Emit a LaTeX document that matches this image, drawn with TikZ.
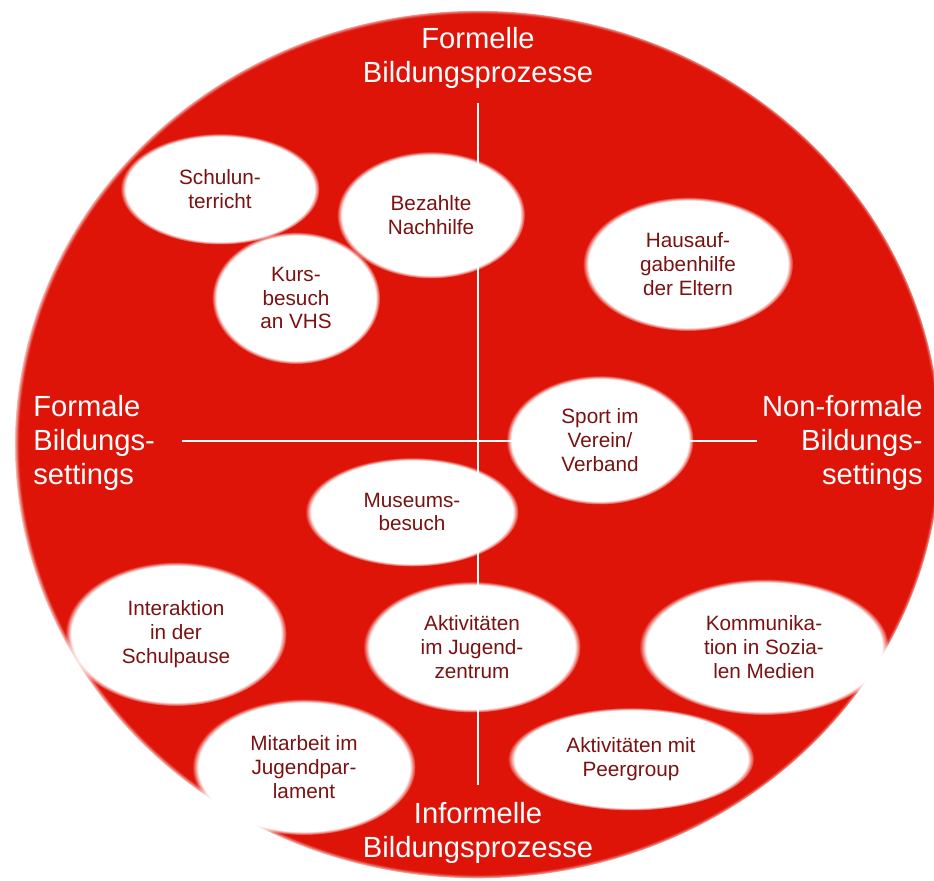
\documentclass[tikz,border=0pt]{standalone}
\usepackage{fontspec}
\setmainfont{Liberation Sans}
\usepackage{xcolor}
\usepackage{tikz}
\usetikzlibrary{positioning,shapes.geometric,fadings,backgrounds}
\definecolor{bgred}{HTML}{DE1408}
\definecolor{bubbletext}{HTML}{7A1212}
\pgfdeclareradialshading{softshade}{\pgfpointorigin}{color(0bp)=(pgftransparent!0); color(23.6bp)=(pgftransparent!0); color(25bp)=(pgftransparent!100); color(50bp)=(pgftransparent!100)}
\pgfdeclareradialshading{rimshade}{\pgfpointorigin}{color(0bp)=(pgftransparent!0); color(24.7bp)=(pgftransparent!0); color(25bp)=(pgftransparent!100); color(50bp)=(pgftransparent!100)}
\pgfdeclarefading{softedge}{\pgfuseshading{softshade}}
\pgfdeclarefading{rimedge}{\pgfuseshading{rimshade}}
\pgfdeclarelayer{base}
\pgfsetlayers{base,background,main}
\tikzset{
bubble/.style={
inner sep=0pt,
align=center,
text=bubbletext,
font=\fontsize{11.8}{13.6}\selectfont
},
bubblefill/.style={
fill=white,
path fading=softedge
},
axislabel/.style={
text=white,
inner sep=0pt,
font=\fontsize{16.6}{19.2}\selectfont
},
axis/.style={
draw=white,
line width=1.1pt
}
}

\begin{document}
\begin{tikzpicture}[x=0.02cm,y=-0.02cm]
\useasboundingbox (0,0) rectangle (934,880);
\begin{pgfonlayer}{base}
\fill[bgred,path fading=rimedge] (478,444) ellipse [x radius=463,y radius=434];
% axes
\coordinate (up) at (478,103);
\coordinate (down) at (478,785);
\coordinate (left) at (182,441);
\coordinate (right) at (757,441);
\draw[axis](up)--(down);
\draw[axis](left)--(right);
\end{pgfonlayer}

% corner labels
\node[axislabel,align=center](formell) at (478,58){Formelle\\Bildungsprozesse};
\node[axislabel,align=center](informell) at (478,833){Informelle\\Bildungsprozesse};
\node[axislabel,align=left,anchor=west](formal) at (33,443){Formale\\Bildungs-\\settings};
\node[axislabel,align=right,anchor=east](nonformal) at (923,443){Non-formale\\Bildungs-\\settings};

% bubbles: name/x/y/width/height/text
\foreach \n/\x/\y/\w/\h/\t in {
schule/220/189/199/111/{Schulun-\\terricht},
nachhilfe/431/215/188/127/{Bezahlte\\Nachhilfe},
vhs/296/298/168/132/{Kurs-\\besuch\\an VHS},
eltern/688/264/210/134/{Hausauf-\\gabenhilfe\\der Eltern},
sport/600/440/187/129/{Sport im\\Verein\slash\\Verband},
museum/412/512/213/109/{Museums-\\besuch},
pause/176/634/221/144/{Interaktion\\in der\\Schulpause},
jugend/472/647/217/131/{Aktivit\"aten\\im Jugend-\\zentrum},
medien/764/647/249/136/{Kommunika-\\tion in Sozia-\\len Medien},
parlament/304/767/223/136/{Mitarbeit im\\Jugendpar-\\lament},
peer/631/759/246/103/{Aktivit\"aten mit\\Peergroup}}{
\begin{pgfonlayer}{background}
\fill[bubblefill] (\x,\y) ellipse [x radius=\w/2,y radius=\h/2];
\end{pgfonlayer}
\node[bubble](\n) at (\x,\y){\t};
}
\end{tikzpicture}
\end{document}
